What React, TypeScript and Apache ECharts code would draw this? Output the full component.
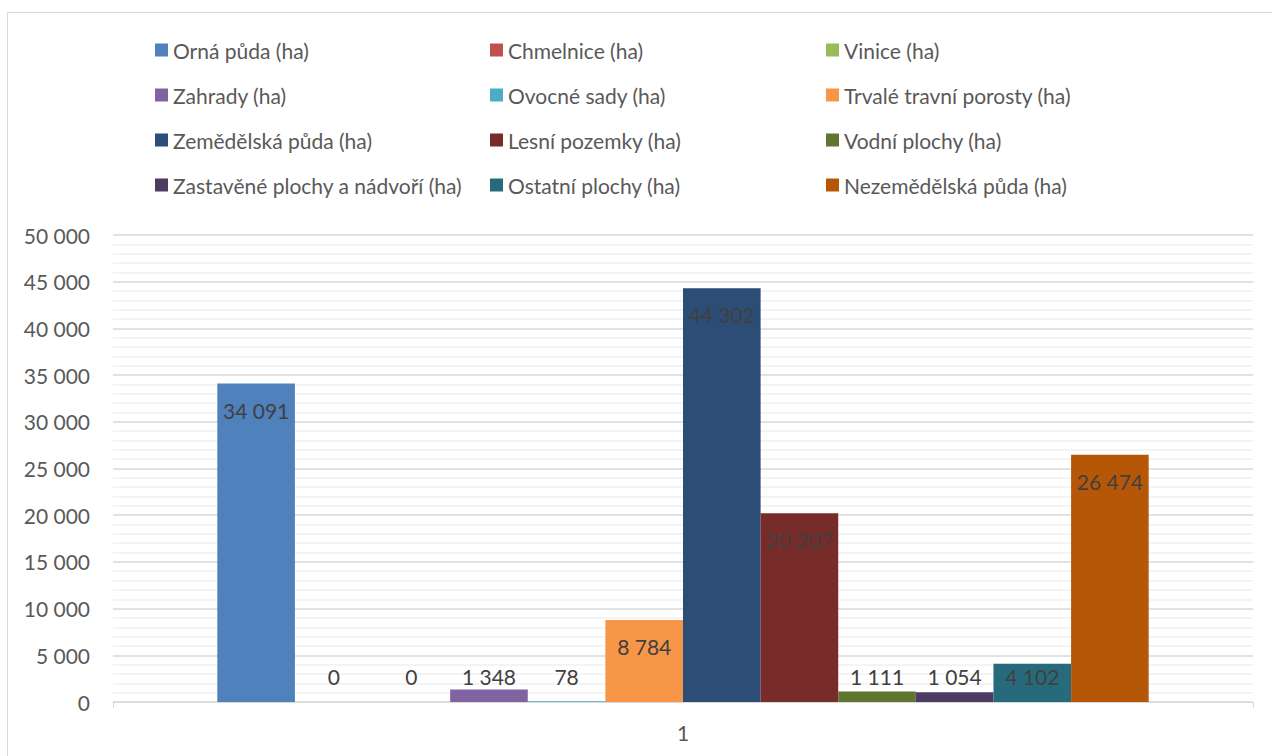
import React, { useEffect, useRef } from "react";
import * as echarts from "echarts";

const categories = ["1"];
const seriesNames = [
  "Orná půda (ha)",
  "Chmelnice (ha)",
  "Vinice (ha)",
  "Zahrady (ha)",
  "Ovocné sady (ha)",
  "Trvalé travní porosty (ha)",
  "Zemědělská půda (ha)",
  "Lesní pozemky (ha)",
  "Vodní plochy (ha)",
  "Zastavěné plochy a nádvoří (ha)",
  "Ostatní plochy (ha)",
  "Nezemědělská půda (ha)",
];
const seriesValues = [34091, 0, 0, 1348, 78, 8784, 44302, 20207, 1111, 1054, 4102, 26474];
const seriesColors = [
  "#4F81BD", "#C0504D", "#9BBB59", "#8064A2", "#4BACC6", "#F79646",
  "#2C4D75", "#772C2A", "#5F7530", "#4D3B62", "#276A7C", "#B65708",
];

const fmt = (v: number) => String(Math.round(v)).replace(/\B(?=(\d{3})+(?!\d))/g, " ");

const FONT = "Lato";
const TEXT = "#595959";
const FS = 21;

export default function App() {
  const ref = useRef<HTMLDivElement>(null);
  useEffect(() => {
    if (!ref.current) return;
    const chart = echarts.init(ref.current, undefined, { renderer: "svg" });
    const legendCols = [0, 1, 2].map((c) => seriesNames.filter((_, i) => i % 3 === c));
    const legendLefts = [150, 485, 821];
    chart.setOption({
      animation: false,
      color: seriesColors,
      textStyle: { fontFamily: FONT },
      graphic: [
        {
          type: "rect",
          shape: { x: 7.5, y: 12.5, width: 1400, height: 900 },
          style: { fill: "none", stroke: "#d9d9d9", lineWidth: 1 },
          silent: true,
        },
      ],
      legend: legendCols.map((names, c) => ({
        orient: "vertical",
        left: legendLefts[c],
        top: 33,
        data: names,
        icon: "rect",
        itemWidth: 13,
        itemHeight: 13,
        itemGap: 21,
        selectedMode: false,
        textStyle: { color: TEXT, fontSize: FS, fontFamily: FONT, lineHeight: 24 },
      })),
      grid: { left: 113, right: 19, top: 235, bottom: 54 },
      xAxis: {
        type: "category",
        data: categories,
        axisLine: { lineStyle: { color: "#d9d9d9" } },
        axisTick: { show: true, length: 6, lineStyle: { color: "#d9d9d9" } },
        axisLabel: { color: TEXT, fontSize: FS, fontFamily: FONT, margin: 20 },
      },
      yAxis: {
        type: "value",
        min: 0,
        max: 50000,
        interval: 5000,
        axisLine: { show: false },
        axisTick: { show: false },
        axisLabel: { color: TEXT, fontSize: FS, fontFamily: FONT, margin: 23, formatter: (v: number) => fmt(v) },
        splitLine: { lineStyle: { color: "#d9d9d9", width: 1.5 } },
        minorTick: { show: false, splitNumber: 5 },
        minorSplitLine: { show: true, lineStyle: { color: "#f0f0f0", width: 1.5 } },
      },
      series: seriesNames.map((name, i) => {
        const v = seriesValues[i];
        const small = v < 5675;
        return {
          name,
          type: "bar",
          data: [v],
          barGap: "0%",
          barCategoryGap: "18.3%",
          itemStyle: { color: seriesColors[i] },
          label: {
            show: true,
            position: small ? "insideBottom" : "insideTop",
            distance: small ? 15 : 16,
            color: "#404040",
            fontSize: FS,
            fontFamily: FONT,
            formatter: (p: any) => fmt(p.value),
          },
        };
      }),
    });
    return () => chart.dispose();
  }, []);
  return (
    <div
      ref={ref}
      style={{ position: "absolute", left: 0, top: 0, width: 1272, height: 756, background: "#fff" }}
    />
  );
}
